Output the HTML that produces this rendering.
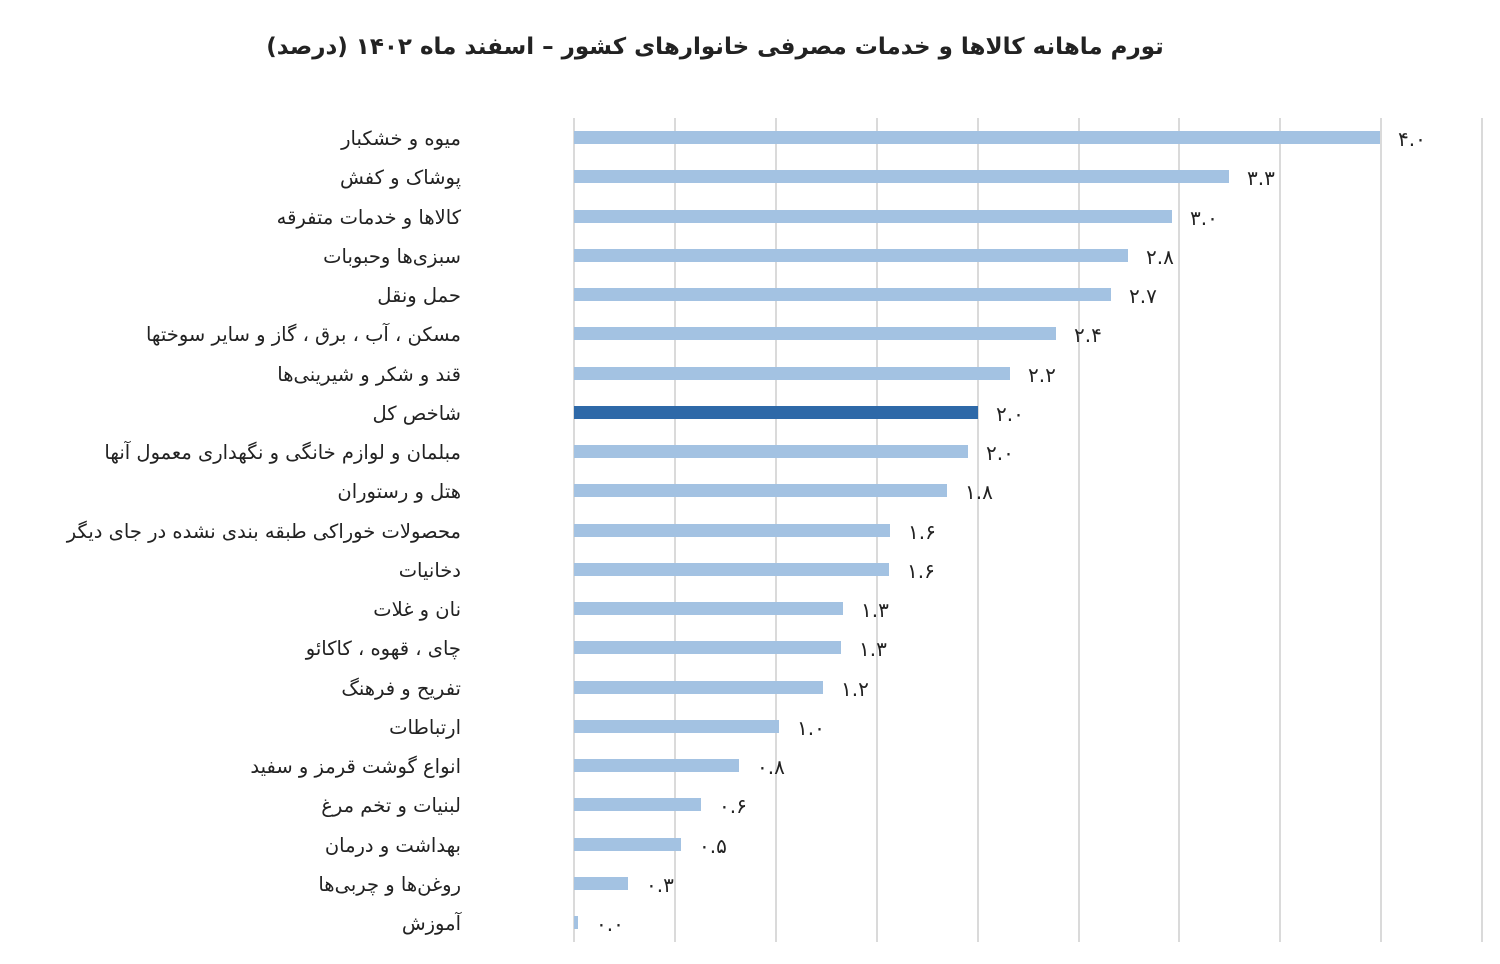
<!DOCTYPE html>
<html><head><meta charset="utf-8"><style>
body{margin:0;width:1500px;height:964px;background:#fff;position:relative;overflow:hidden;font-family:"DejaVu Sans","Liberation Sans",sans-serif;}
.t{position:absolute;left:0;width:1430px;top:34px;text-align:center;font-weight:bold;font-size:23px;color:#222;direction:rtl}
.g{position:absolute;top:118px;height:824px;width:2px;background:#dadada}
.b{position:absolute;left:574px;height:13px;background:#a3c2e2}
.l{position:absolute;right:1039px;font-size:19.5px;color:#222;direction:rtl;white-space:nowrap;line-height:24px;letter-spacing:0.3px}
.v{position:absolute;font-size:20px;color:#222;line-height:24px}
</style></head><body>
<div class="t">تورم ماهانه کالاها و خدمات مصرفی خانوارهای کشور – اسفند ماه ۱۴۰۲ (درصد)</div>
<div id="c"></div>
<script>
var c=document.getElementById('c'),h='';
for(var i=0;i<10;i++){h+='<div class="g" style="left:'+(573+i*100.9)+'px"></div>';}
var d=[["میوه و خشکبار",1380,"۴.۰"],["پوشاک و کفش",1229,"۳.۳"],["کالاها و خدمات متفرقه",1172,"۳.۰"],["سبزی‌ها وحبوبات",1128,"۲.۸"],["حمل ونقل",1111,"۲.۷"],["مسکن ، آب ، برق ، گاز و سایر سوختها",1056,"۲.۴"],["قند و شکر و شیرینی‌ها",1010,"۲.۲"],["شاخص کل",978,"۲.۰"],["مبلمان و لوازم خانگی و نگهداری معمول آنها",968,"۲.۰"],["هتل و رستوران",947,"۱.۸"],["محصولات خوراکی طبقه بندی نشده در جای دیگر",890,"۱.۶"],["دخانیات",889,"۱.۶"],["نان و غلات",843,"۱.۳"],["چای ، قهوه ، کاکائو",841,"۱.۳"],["تفریح و فرهنگ",823,"۱.۲"],["ارتباطات",779,"۱.۰"],["انواع گوشت قرمز و سفید",739,"۰.۸"],["لبنیات و تخم مرغ",701,"۰.۶"],["بهداشت و درمان",681,"۰.۵"],["روغن‌ها و چربی‌ها",628,"۰.۳"],["آموزش",578,"۰.۰"]];
d.forEach(function(r,i){var y=137+i*39.25;
h+='<div class="b" style="top:'+(y-6)+'px;width:'+(r[1]-574)+'px'+(i==7?';background:#2e69a8':'')+'"></div>';
h+='<div class="l" style="top:'+(y-10)+'px">'+r[0]+'</div>';
h+='<div class="v" style="left:'+(r[1]+18)+'px;top:'+(y-10)+'px">'+r[2]+'</div>';});
c.innerHTML=h;
</script>
</body></html>
